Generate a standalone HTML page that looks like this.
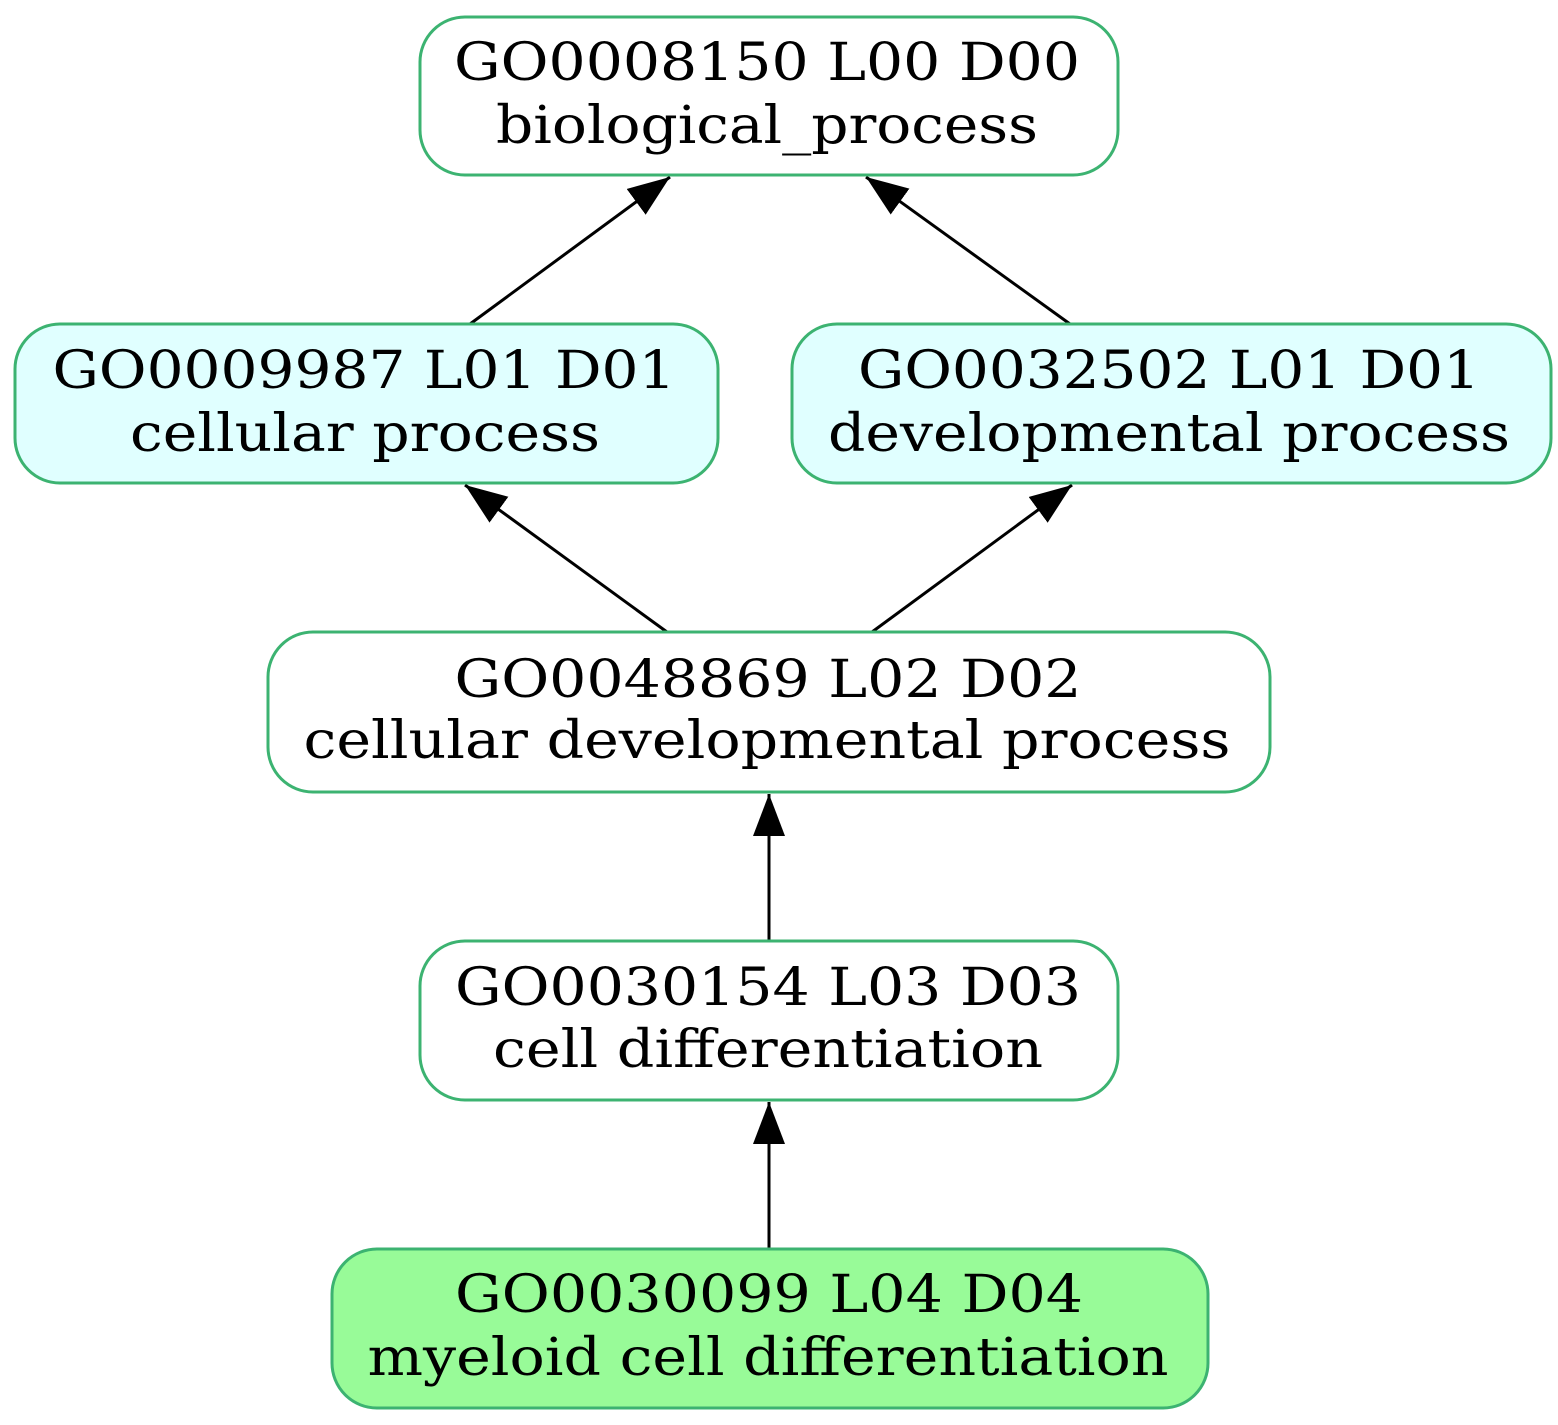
<!DOCTYPE html>
<html><head><meta charset="utf-8"><style>
html,body{margin:0;padding:0;background:#fff;}
svg{display:block;}
text{font-family:"DejaVu Serif","Liberation Serif",serif;font-size:52px;fill:#000;}
</style></head><body>
<svg width="1558" height="1425" viewBox="0 0 1558 1425" xmlns="http://www.w3.org/2000/svg">
<defs>
<marker id="a" markerWidth="44" markerHeight="34" refX="42" refY="16" orient="auto" markerUnits="userSpaceOnUse">
<path d="M0,0 L42,16 L0,32 Z" fill="#000"/>
</marker>
</defs>
<g stroke="#000" stroke-width="3" fill="none">
<line x1="470" y1="324" x2="670" y2="177" marker-end="url(#a)"/>
<line x1="1070" y1="324" x2="866" y2="177" marker-end="url(#a)"/>
<line x1="667" y1="632" x2="465" y2="485" marker-end="url(#a)"/>
<line x1="872" y1="632" x2="1072" y2="485" marker-end="url(#a)"/>
<line x1="769" y1="941" x2="769" y2="794" marker-end="url(#a)"/>
<line x1="769" y1="1249" x2="769" y2="1102" marker-end="url(#a)"/>
</g>
<g stroke="#3cb371" stroke-width="3">
<rect x="420" y="17" width="698" height="158" rx="45" fill="#fff"/>
<rect x="15" y="324" width="703" height="159" rx="45" fill="#e0ffff"/>
<rect x="792" y="324" width="759" height="159" rx="45" fill="#e0ffff"/>
<rect x="268" y="632" width="1002" height="160" rx="45" fill="#fff"/>
<rect x="420" y="941" width="698" height="159" rx="45" fill="#fff"/>
<rect x="332" y="1249" width="876" height="159" rx="45" fill="#98fb98"/>
</g>
<g text-anchor="middle" lengthAdjust="spacingAndGlyphs">
<text x="767" y="80" textLength="626" lengthAdjust="spacingAndGlyphs">GO0008150 L00 D00</text>
<text x="767" y="143" textLength="542" lengthAdjust="spacingAndGlyphs">biological_process</text>
<text x="364" y="388" textLength="623" lengthAdjust="spacingAndGlyphs">GO0009987 L01 D01</text>
<text x="365" y="451" textLength="470" lengthAdjust="spacingAndGlyphs">cellular process</text>
<text x="1169" y="388" textLength="622" lengthAdjust="spacingAndGlyphs">GO0032502 L01 D01</text>
<text x="1169" y="451" textLength="682" lengthAdjust="spacingAndGlyphs">developmental process</text>
<text x="768" y="697" textLength="627" lengthAdjust="spacingAndGlyphs">GO0048869 L02 D02</text>
<text x="767" y="758" textLength="927" lengthAdjust="spacingAndGlyphs">cellular developmental process</text>
<text x="768" y="1005" textLength="626" lengthAdjust="spacingAndGlyphs">GO0030154 L03 D03</text>
<text x="768" y="1067" textLength="550" lengthAdjust="spacingAndGlyphs">cell differentiation</text>
<text x="769" y="1312" textLength="628" lengthAdjust="spacingAndGlyphs">GO0030099 L04 D04</text>
<text x="768" y="1375" textLength="801" lengthAdjust="spacingAndGlyphs">myeloid cell differentiation</text>
</g>
</svg>
</body></html>
